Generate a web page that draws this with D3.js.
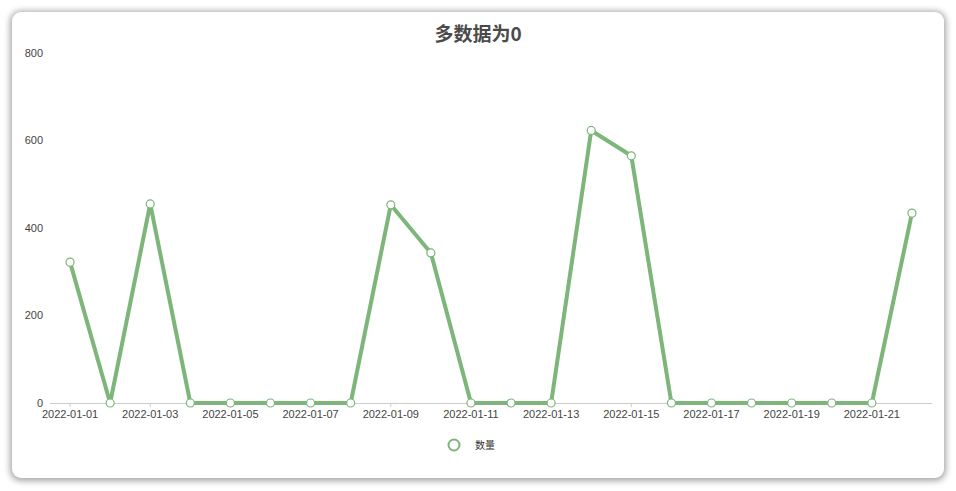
<!DOCTYPE html>
<html>
<head>
<meta charset="utf-8">
<script src="https://cdn.jsdelivr.net/npm/d3@7"></script>
<style>
  html, body { margin: 0; padding: 0; background: #fff; }
  body { width: 956px; height: 491px; overflow: hidden; }
  .card {
    position: absolute; left: 12px; top: 12px; width: 932px; height: 466px;
    background: #fff; border-radius: 9px;
    box-shadow: 0 1px 6px 2px rgba(0,0,0,0.35);
  }
  svg { position: absolute; left: 0; top: 0; }
</style>
</head>
<body>
<div class="card"></div>
<svg id="chart"></svg>
<script>
const titleText = "多数据为0";
const seriesName = "数量";
const dates = [
  "2022-01-01", "2022-01-02", "2022-01-03", "2022-01-04", "2022-01-05", "2022-01-06",
  "2022-01-07", "2022-01-08", "2022-01-09", "2022-01-10", "2022-01-11", "2022-01-12",
  "2022-01-13", "2022-01-14", "2022-01-15", "2022-01-16", "2022-01-17", "2022-01-18",
  "2022-01-19", "2022-01-20", "2022-01-21", "2022-01-22"
];
const counts = [322, 0, 455, 0, 0, 0, 0, 0, 453, 343, 0, 0, 0, 623, 565, 0, 0, 0, 0, 0, 0, 434];
const yTicks = [0, 200, 400, 600, 800];

const width = 956;
const height = 491;
const margin = { top: 53, right: 24, bottom: 88, left: 50 };
const green = "#7db57a";

const svg = d3.select("#chart").attr("width", width).attr("height", height);

const xScale = d3.scaleBand()
  .domain(dates)
  .range([margin.left, width - margin.right]);

const yScale = d3.scaleLinear()
  .domain([0, 800])
  .range([height - margin.bottom, margin.top]);

// title
svg.append("text")
  .attr("x", 478)
  .attr("y", 41)
  .attr("text-anchor", "middle")
  .attr("font-family", "'Noto Sans CJK SC', sans-serif")
  .attr("font-size", 19)
  .attr("font-weight", "bold")
  .attr("fill", "#4a4a4a")
  .text(titleText);

// y axis labels (no line)
svg.append("g")
  .selectAll("text")
  .data(yTicks)
  .enter()
  .append("text")
  .attr("x", 43)
  .attr("y", (d) => yScale(d))
  .attr("dy", "0.35em")
  .attr("text-anchor", "end")
  .attr("font-family", "'Liberation Sans', Arial, sans-serif")
  .attr("font-size", 11)
  .attr("fill", "#444")
  .text((d) => d);

// x axis
const xAxis = svg.append("g")
  .attr("transform", `translate(0, ${yScale(0)})`)
  .call(
    d3.axisBottom(xScale)
      .tickValues(dates.filter((d, i) => i % 2 === 0))
      .tickSize(4)
      .tickPadding(3)
  );
xAxis.select(".domain").attr("stroke", "#ccc").attr("stroke-width", 1.2).attr("d", `M${margin.left},0.5H${width - margin.right}`);
xAxis.selectAll(".tick line").attr("stroke", "#ccc");
xAxis.selectAll(".tick text")
  .attr("font-family", "'Liberation Sans', Arial, sans-serif")
  .attr("font-size", 11)
  .attr("fill", "#444");

const cx = (d, i) => xScale(dates[i]) + xScale.bandwidth() / 2;

// line
const line = d3.line()
  .x((d, i) => cx(d, i))
  .y((d) => yScale(d));

svg.append("path")
  .datum(counts)
  .attr("fill", "none")
  .attr("stroke", green)
  .attr("stroke-width", 4)
  .attr("stroke-linejoin", "round")
  .attr("d", line);

// points
svg.selectAll(".dot")
  .data(counts)
  .enter()
  .append("circle")
  .attr("class", "dot")
  .attr("cx", (d, i) => cx(d, i))
  .attr("cy", (d) => yScale(d))
  .attr("r", 4)
  .attr("fill", "#fff")
  .attr("stroke", green)
  .attr("stroke-width", 1.2);

// legend
const legend = svg.append("g").attr("transform", "translate(454, 445)");
legend.append("circle")
  .attr("r", 5.5)
  .attr("fill", "#fff")
  .attr("stroke", green)
  .attr("stroke-width", 2);
legend.append("text")
  .attr("x", 21)
  .attr("dy", "0.35em")
  .attr("font-family", "'Noto Sans CJK SC', sans-serif")
  .attr("font-size", 10)
  .attr("fill", "#333")
  .text(seriesName);
</script>
</body>
</html>
